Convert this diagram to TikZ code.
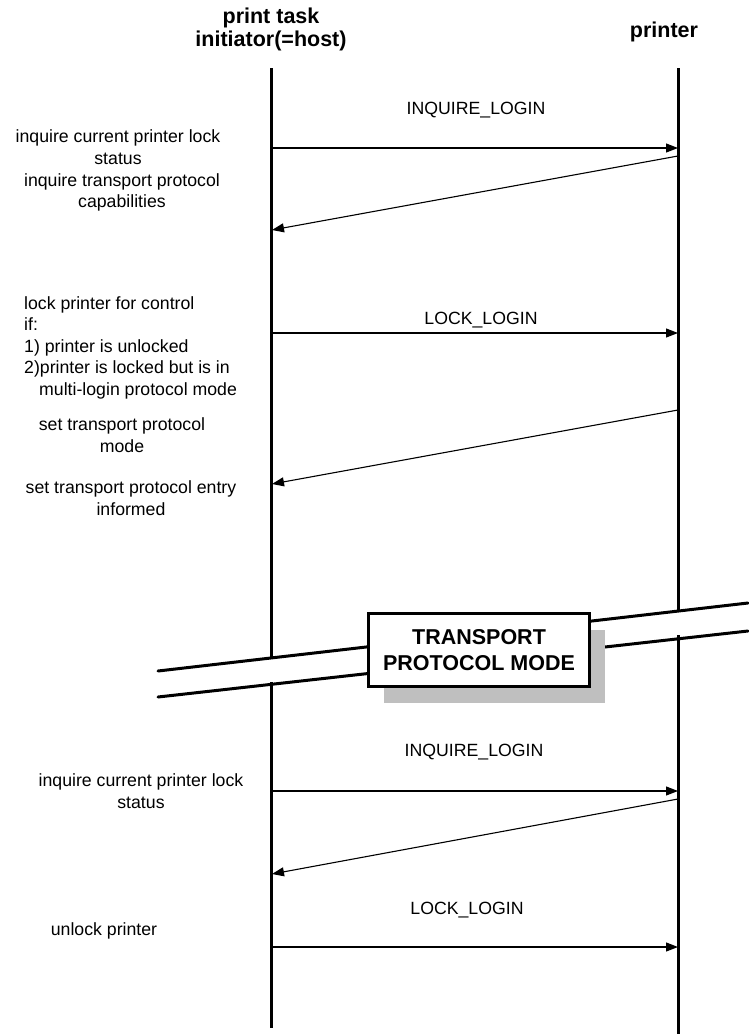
\documentclass[tikz,border=0pt]{standalone}
\usepackage{fontspec}
\setmainfont{Liberation Sans}
\usepackage{tikz}
\usetikzlibrary{arrows.meta,shadows}
\tikzstyle{head} = [font=\bfseries\fontsize{21.5}{23}\selectfont,
    align=center, inner sep=0pt]
\tikzstyle{note} = [font=\fontsize{17.7}{21.5}\selectfont,
    align=center, inner sep=0pt]
\tikzstyle{lifeline} = [line width=3pt]
\tikzstyle{msg} = [line width=1.1pt, -{Triangle[length=12pt,width=9pt]}]
\tikzstyle{brk} = [line width=3pt, line cap=round]
\tikzstyle{modebox} = [draw, line width=3pt, fill=white,
    minimum width=221pt, minimum height=73pt, align=center,
    font=\bfseries\fontsize{21.5}{26}\selectfont,
    drop shadow={shadow xshift=15pt, shadow yshift=-16pt,
        fill=black!25, opacity=1, draw=none}]

\begin{document}
\begin{tikzpicture}[x=1pt, y=-1pt]
    \useasboundingbox (0,0) rectangle (748,1034);
    % % % % % % % % % % % % % % % % % % % % % % %
    % Headers
    % % % % % % % % % % % % % % % % % % % % % % %
    \node [head] (host) at (271,29.5) {print task\\initiator(=host)};
    \node [head] (prn) at (664,32) {printer};

    % lifeline end points
    \coordinate (hostTop) at (271,68);
    \coordinate (hostCut) at (271,658);
    \coordinate (hostRes) at (271,682);
    \coordinate (hostEnd) at (271,1028);
    \coordinate (prnTop) at (678,68);
    \coordinate (prnCut) at (678,612);
    \coordinate (prnRes) at (678,635);
    \coordinate (prnEnd) at (678,1034);

    \draw [lifeline] (hostTop) -- (hostCut);
    \draw [lifeline] (hostRes) -- (hostEnd);
    \draw [lifeline] (prnTop) -- (prnCut);
    \draw [lifeline] (prnRes) -- (prnEnd);

    % % % % % % % % % % % % % % % % % % % % % % %
    % Login phase
    % % % % % % % % % % % % % % % % % % % % % % %
    \coordinate (h1) at (271,148);  \coordinate (p1) at (678,148);
    \coordinate (p2) at (678,156);  \coordinate (h2) at (272,230);
    \coordinate (h3) at (271,333);  \coordinate (p3) at (678,333);
    \coordinate (p4) at (678,410);  \coordinate (h4) at (272,484);

    \node [note] (inq1) at (476,110) {INQUIRE\_LOGIN};
    \node [note] (lock1) at (481,320) {LOCK\_LOGIN};

    \draw [msg] (h1) -- (p1);
    \draw [msg] (p2) -- (h2);
    \draw [msg] (h3) -- (p3);
    \draw [msg] (p4) -- (h4);

    % notes on the host side
    \node [note] (st1) at (118,147) {inquire current printer lock\\status};
    \node [note] (cap) at (122,192.5) {inquire transport protocol\\capabilities};
    \node [note, align=left, anchor=west] (lockif) at (24,347.5)
        {lock printer for control\\if:\\1) printer is unlocked\\
         2)printer is locked but is in\\\hspace*{15pt}multi-login protocol mode};
    \node [note] (setm) at (122,435) {set transport protocol\\mode};
    \node [note] (sete) at (131,498) {set transport protocol entry\\informed};

    % % % % % % % % % % % % % % % % % % % % % % %
    % Break into transport protocol mode
    % % % % % % % % % % % % % % % % % % % % % % %
    \coordinate (b1l) at (158,671);  \coordinate (b1r) at (748,603);
    \coordinate (b2l) at (158,697);  \coordinate (b2r) at (748,631);
    \draw [brk] (b1l) -- (b1r);
    \draw [brk] (b2l) -- (b2r);
    \node [modebox] (mode) at (479,650) {TRANSPORT\\PROTOCOL MODE};

    % % % % % % % % % % % % % % % % % % % % % % %
    % Logout phase
    % % % % % % % % % % % % % % % % % % % % % % %
    \coordinate (h5) at (271,791);  \coordinate (p5) at (678,791);
    \coordinate (p6) at (678,799);  \coordinate (h6) at (272,874);
    \coordinate (h7) at (271,947);  \coordinate (p7) at (678,947);

    \node [note] (inq2) at (474,752) {INQUIRE\_LOGIN};
    \node [note] (lock2) at (467,910) {LOCK\_LOGIN};

    \draw [msg] (h5) -- (p5);
    \draw [msg] (p6) -- (h6);
    \draw [msg] (h7) -- (p7);

    \node [note] (st2) at (141,791) {inquire current printer lock\\status};
    \node [note] (unl) at (104,931) {unlock printer};
\end{tikzpicture}
\end{document}
